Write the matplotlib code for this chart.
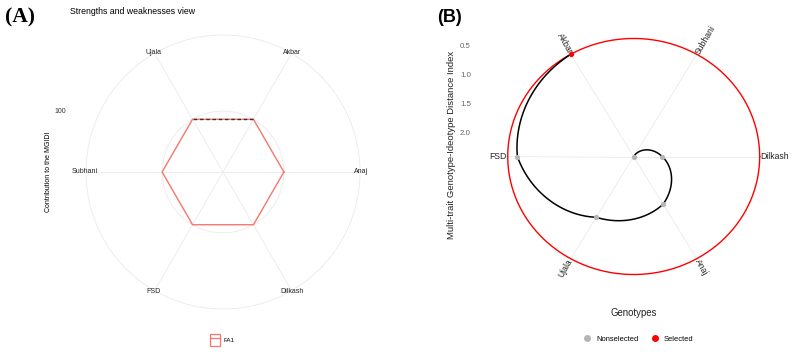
import numpy as np
import matplotlib
matplotlib.use("Agg")
from matplotlib import pyplot as plt
from matplotlib.lines import Line2D
from matplotlib.patches import Patch

plt.rcParams['font.family'] = ['Liberation Sans', 'DejaVu Sans']

W, H = 796, 357

# panel A - contribution of the factor to the MGIDI (only FA1 -> 100 %)
genos_a = ['Anaj', 'Akbar', 'Ujala', 'Subhani', 'FSD', 'Dilkash']
contrib_fa1 = [100, 100, 100, 100, 100, 100]
ticks_a = [100]
rmax_a = 225

# panel B - MGIDI per genotype
genos_b = ['Dilkash', 'Subhani', 'Akbar', 'FSD', 'Ujala', 'Anaj']
mgidi = [1.94, 2.40, 0.365, 0.52, 1.19, 1.45]
selected = ['Akbar']
ticks_b = [0.5, 1.0, 1.5, 2.0]

GRID = '#EDEDED'
SALMON = '#F8766D'


def px_axes(fig, x0, x1, y0, y1):
    ax = fig.add_axes([x0 / W, 1 - y1 / H, (x1 - x0) / W, (y1 - y0) / H])
    ax.set_axis_off()
    return ax


def polar_xy(r, th):
    return r * np.cos(th), r * np.sin(th)


fig = plt.figure(figsize=(W / 100, H / 100), dpi=100)

# ---------------- panel A ----------------
axA = px_axes(fig, 0, 398, 0, 357)
cxA, cyA, sA = 223, 172, 137 / rmax_a
axA.set_xlim((0 - cxA) / sA, (398 - cxA) / sA)
axA.set_ylim(-(357 - cyA) / sA, cyA / sA)

t = np.linspace(0, 2 * np.pi, 400)
for r in ticks_a + [rmax_a]:
    axA.plot(*polar_xy(r, t), color=GRID, lw=0.7, zorder=1)

ang_a = np.arange(len(genos_a)) * 2 * np.pi / len(genos_a)
for th, g in zip(ang_a, genos_a):
    axA.plot(*polar_xy(np.array([0, rmax_a]), th), color=GRID, lw=0.7, zorder=1)
    x, y = polar_xy(rmax_a + 2, th)
    axA.text(x, y, g, ha='center', va='center', fontsize=5, color='#222222')

vals = np.array(contrib_fa1 + contrib_fa1[:1], dtype=float)
ths = np.append(ang_a, ang_a[0])
xs, ys = polar_xy(vals, ths)
axA.plot(xs, ys, color=SALMON, lw=1.0, zorder=3)
# closing segment drawn dashed over the polygon
axA.plot(xs[1:3], ys[1:3], color='#333333', lw=1.0, ls=(0, (2.5, 2.0)), zorder=4)

for v in ticks_a:
    fig.text(60 / W, 1 - (cyA - v * sA) / H, str(v), ha='center', va='center',
             fontsize=5, color='#333333')
fig.text(49 / W, 1 - cyA / H, 'Contribution to the MGIDI', rotation=90,
         ha='center', va='center', fontsize=5)
fig.text(70 / W, 1 - 11 / H, 'Strengths and weaknesses view', ha='left',
         va='center', fontsize=6.3)
fig.text(5 / W, 1 - 17 / H, '(A)', family='Liberation Serif', weight='bold',
         fontsize=15.5, ha='left', va='center')

fig.legend(handles=[(Patch(facecolor='none', edgecolor=SALMON, lw=0.9),
                     Line2D([], [], color=SALMON, lw=0.9))],
           labels=['FA1'], loc='center', bbox_to_anchor=(222 / W, 1 - 340 / H),
           frameon=False, fontsize=4.5, handlelength=1.6, handleheight=2.6,
           handletextpad=0.5)

# ---------------- panel B ----------------
axB = px_axes(fig, 400, 796, 0, 357)
cxB, cyB = 633.7, 156.5
sx, sy = 61.9, 58.0
axB.set_xlim((400 - cxB) / sx, (796 - cxB) / sx)
axB.set_ylim(-(357 - cyB) / sy, cyB / sy)

r0 = max(mgidi)
cut = max(m for g, m in zip(genos_b, mgidi) if g in selected)
r_cut = r0 - cut

ang_b = np.arange(len(genos_b)) * 2 * np.pi / len(genos_b)
for th, g in zip(ang_b, genos_b):
    axB.plot(*polar_xy(np.array([0, 2.06]), th), color=GRID, lw=0.7, zorder=1)
    deg = np.degrees(th)
    if np.cos(th) >= -1e-9:
        rot, ha = (deg + 180) % 360 - 180, 'left'
    else:
        rot, ha = deg - 180, 'right'
    x, y = polar_xy(2.05, th)
    axB.text(x, y, g, rotation=rot, rotation_mode='anchor', ha=ha, va='center',
             fontsize=6.2, color='#222222')

axB.plot(*polar_xy(r_cut, t), color='#FF0000', lw=1.0, zorder=2)

# spiral path ordered by MGIDI, straight in (theta, r) space
order = np.argsort(mgidi)
th_path = np.unwrap(ang_b[order])
r_path = r0 - np.array(mgidi)[order]
px, py = [], []
for i in range(len(order) - 1):
    tt = np.linspace(th_path[i], th_path[i + 1], 60)
    rr = np.linspace(r_path[i], r_path[i + 1], 60)
    x, y = polar_xy(rr, tt)
    px.extend(x)
    py.extend(y)
axB.plot(px, py, color='black', lw=1.1, zorder=3)

for th, g, m in zip(ang_b, genos_b, mgidi):
    c = '#FF0000' if g in selected else '#B5B5B5'
    x, y = polar_xy(r0 - m, th)
    axB.scatter(x, y, s=14, color=c, zorder=4, linewidths=0)

for v in ticks_b:
    axB.text((471 - cxB) / sx, r0 - v, f'{v:.1f}', ha='right', va='center',
             fontsize=5.7, color='#666666')

fig.text(452 / W, 1 - 145 / H, 'Multi-trait Genotype-Ideotype Distance Index',
         rotation=90, ha='center', va='center', fontsize=6.8, color='#222222')
fig.text(634 / W, 1 - 313 / H, 'Genotypes', ha='center', va='center',
         fontsize=6.9, color='#222222')
fig.text(437 / W, 1 - 17 / H, '(B)', weight='bold', fontsize=13,
         ha='left', va='center')

hB = [Line2D([], [], ls='', marker='o', ms=4, color='#B5B5B5'),
      Line2D([], [], ls='', marker='o', ms=4, color='#FF0000')]
fig.legend(handles=hB, labels=['Nonselected', 'Selected'], loc='center',
           bbox_to_anchor=(638 / W, 1 - 339 / H), ncol=2, frameon=False,
           fontsize=5.4, handlelength=1.2, handletextpad=0.6, columnspacing=1.6)

fig.savefig('out.png', dpi=100, facecolor='white')
